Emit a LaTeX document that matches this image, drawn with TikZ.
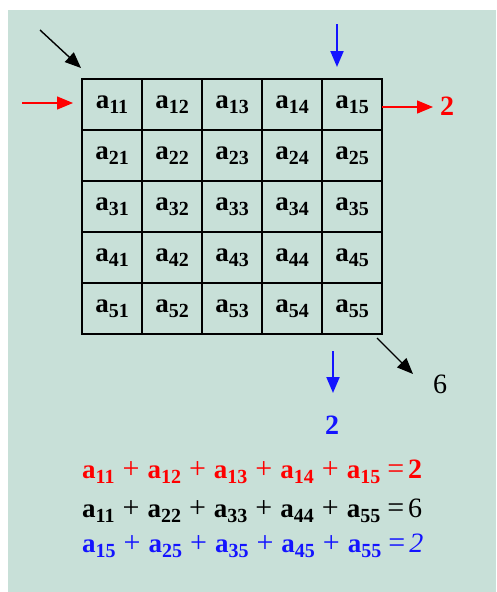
\documentclass[tikz,border=0pt]{standalone}
\usepackage{fontspec}
\setmainfont{Liberation Serif}
\usetikzlibrary{arrows.meta}
\definecolor{bg}{RGB}{200,224,216}
\definecolor{myred}{RGB}{255,0,0}
\definecolor{myblue}{RGB}{20,20,255}
\newcommand{\aij}[1]{\textbf{a}\raisebox{-0.2em}{\fontsize{20}{20}\selectfont\bfseries #1}}
\newcommand{\pl}{\hspace{8pt}{\fontsize{30}{30}\selectfont +}\hspace{8pt}}
\newcommand{\eqs}{\hspace{7pt}{\fontsize{30}{30}\selectfont =}\hspace{4pt}}
\begin{document}
\begin{tikzpicture}[x=1pt,y=-1pt,
  cell/.style={minimum width=60pt, minimum height=51pt, inner sep=0pt, font=\fontsize{27}{27}\selectfont},
  gridline/.style={line width=1.5pt, line cap=rect},
  arr/.style={-{Triangle[length=16pt,width=13pt]}, line width=1.4pt},
  eqn/.style={anchor=base west, inner sep=0pt, font=\fontsize{27}{27}\selectfont},
  lbl/.style={inner sep=0pt, font=\fontsize{28}{28}\selectfont}]
\useasboundingbox (0,0) rectangle (496,592);
\fill[bg] (8,10) rectangle (496,592);
\foreach \r in {1,...,5} {
  \foreach \c in {1,...,5} {
    \node[cell] (c\r\c) at ({82+60*(\c-0.5)}, {79+51*(\r-0.5)}) {\aij{\r\c}};
  }
}
% grid lines
\foreach \c in {1,...,5} {
  \draw[gridline] (c1\c.north west) -- (c5\c.south west);
}
\draw[gridline] (c15.north east) -- (c55.south east);
\foreach \r in {1,...,5} {
  \draw[gridline] (c\r1.north west) -- (c\r5.north east);
}
\draw[gridline] (c51.south west) -- (c55.south east);
% arrows
\coordinate (tlS) at (40,30); \coordinate (tlE) at (81,68);
\draw[arr, black] (tlS) -- (tlE);
\coordinate (rlS) at (22,103); \coordinate (rlE) at (73,103);
\draw[arr, myred] (rlS) -- (rlE);
\node[lbl, myred, font=\fontsize{28}{28}\selectfont\bfseries] (r2) at (447,106) {2};
\coordinate (rrE) at (433,107);
\draw[arr, myred] (c15.east |- rrE) -- (rrE);
\coordinate (btS) at (337,24); \coordinate (btE) at (337,67);
\draw[arr, myblue, line width=2pt] (btS) -- (btE);
\coordinate (bbS) at (333,351); \coordinate (bbE) at (333,393);
\draw[arr, myblue, line width=2pt] (bbS) -- (bbE);
\node[lbl, myblue, font=\fontsize{28}{28}\selectfont\bfseries] (b2) at (332,425) {2};
\coordinate (brS) at (377,338); \coordinate (brE) at (413,374);
\draw[arr, black] (brS) -- (brE);
\node[lbl] (six) at (440,384) {6};
% equations
\node[eqn, myred] (eq1) at (82,478) {\aij{11}\pl\aij{12}\pl\aij{13}\pl\aij{14}\pl\aij{15}\eqs{\fontsize{28}{28}\selectfont\bfseries 2}};
\node[eqn, black] (eq2) at (82,517) {\aij{11}\pl\aij{22}\pl\aij{33}\pl\aij{44}\pl\aij{55}\eqs{\fontsize{28}{28}\selectfont 6}};
\node[eqn, myblue] (eq3) at (82,552) {\aij{15}\pl\aij{25}\pl\aij{35}\pl\aij{45}\pl\aij{55}\eqs{\fontsize{28}{28}\selectfont\itshape 2}};
\end{tikzpicture}
\end{document}
